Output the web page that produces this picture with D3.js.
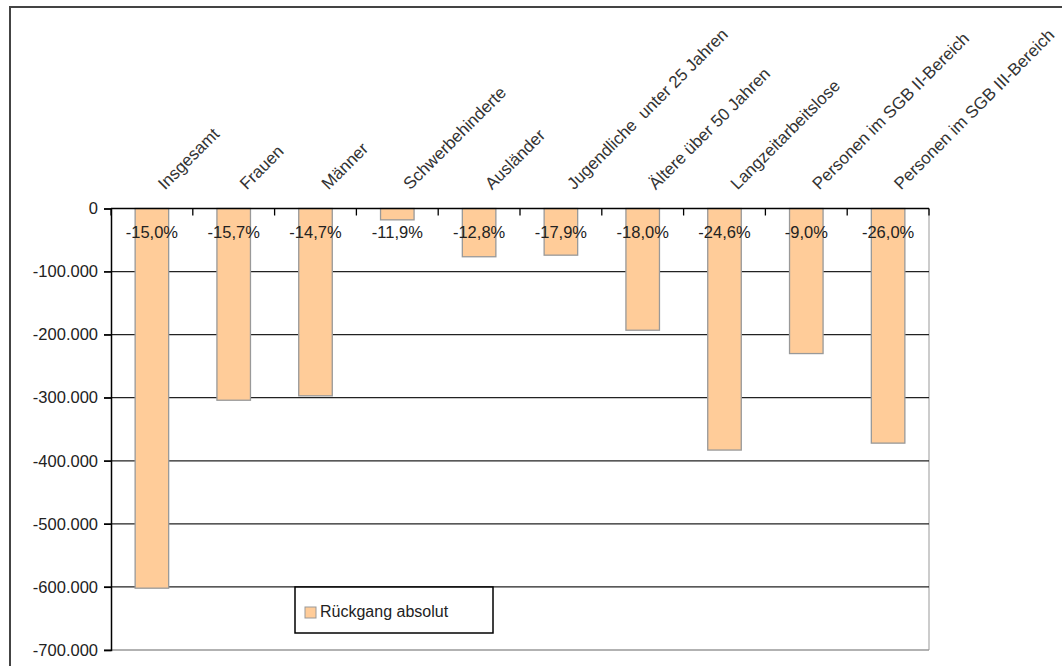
<!DOCTYPE html>
<html>
<head>
<meta charset="utf-8">
<script src="https://cdn.jsdelivr.net/npm/d3@7"></script>
<style>
  html, body { margin: 0; background: #fff; overflow: hidden; }
  svg { display: block; }
  svg text { font-family: "Liberation Sans", Arial, sans-serif; }
</style>
</head>
<body>
<script>
var w = 1062, h = 666;

// data
var categories = ["Insgesamt", "Frauen", "Männer", "Schwerbehinderte", "Ausländer",
    "Jugendliche  unter 25 Jahren", "Ältere über 50 Jahren", "Langzeitarbeitslose",
    "Personen im SGB II-Bereich", "Personen im SGB III-Bereich"];
var rueckgang = [-602000, -304000, -297000, -18000, -76500, -74000, -193000, -383000, -230000, -372000];
var prozent = ["-15,0%", "-15,7%", "-14,7%", "-11,9%", "-12,8%", "-17,9%", "-18,0%", "-24,6%", "-9,0%", "-26,0%"];
var yTicks = [0, -100000, -200000, -300000, -400000, -500000, -600000, -700000];
var seriesName = "Rückgang absolut";

var de = d3.formatLocale({decimal: ",", thousands: ".", grouping: [3], currency: ["", " €"], minus: "-"});
var fmt = de.format(",.0f");

var plot = {left: 111, right: 929, top: 208.5, bottom: 650};

var svg = d3.select("body").append("svg")
    .attr("width", w)
    .attr("height", h);

// outer frame: only left and top edges are in view
svg.append("path")
    .attr("d", "M10," + h + "V7H" + w)
    .style("fill", "none")
    .style("stroke", "#444")
    .style("stroke-width", 2);

var x = d3.scaleBand()
    .domain(categories)
    .range([plot.left, plot.right])
    .paddingInner(0.59)
    .paddingOuter(0.295);

var xb = d3.scaleBand()
    .domain(categories)
    .range([plot.left, plot.right]);

var y = d3.scaleLinear()
    .domain([0, -700000])
    .range([plot.top, plot.bottom]);

// plot border right (light)
svg.append("line")
    .attr("x1", plot.right).attr("x2", plot.right)
    .attr("y1", plot.top).attr("y2", plot.bottom)
    .style("stroke", "#aaa").style("stroke-width", 1.2);

// gridlines
svg.selectAll("line.grid")
    .data(yTicks.slice(1))
    .enter()
    .append("line")
    .attr("class", "grid")
    .attr("x1", plot.left - 7)
    .attr("x2", plot.right)
    .attr("y1", function(d){ return y(d); })
    .attr("y2", function(d){ return y(d); })
    .style("stroke", function(d){ return d === -700000 ? "#999" : "#222"; })
    .style("stroke-width", 1.3);

// bars
svg.selectAll("rect.bar")
    .data(rueckgang)
    .enter()
    .append("rect")
    .attr("class", "bar")
    .attr("x", function(d, i){ return x(categories[i]); })
    .attr("y", y(0))
    .attr("width", x.bandwidth())
    .attr("height", function(d){ return y(d) - y(0); })
    .style("fill", "#FFCC99")
    .style("stroke", "#999")
    .style("stroke-width", 1.3);

// y axis
var yAxis = d3.axisLeft(y)
    .tickValues(yTicks)
    .tickFormat(fmt)
    .tickSize(7)
    .tickPadding(6);
var ga = svg.append("g")
    .attr("transform", "translate(" + plot.left + ",0)")
    .call(yAxis);
ga.select(".domain").style("stroke", "#000").style("stroke-width", 1.5);
ga.selectAll(".tick line").style("stroke", "#000").style("stroke-width", 1.3);
ga.selectAll(".tick text")
    .style("font-size", "16.5px")
    .style("fill", "#222");

// category axis at zero, ticks pointing down
var gx = svg.append("g")
    .attr("transform", "translate(0," + y(0) + ")");
gx.append("line")
    .attr("x1", plot.left).attr("x2", plot.right)
    .style("stroke", "#000").style("stroke-width", 1.5);
gx.selectAll("line.sep")
    .data(categories.concat(["end"]))
    .enter()
    .append("line")
    .attr("class", "sep")
    .attr("x1", function(d, i){ return plot.left + i * xb.bandwidth(); })
    .attr("x2", function(d, i){ return plot.left + i * xb.bandwidth(); })
    .attr("y1", 0).attr("y2", 7)
    .style("stroke", "#000").style("stroke-width", 1.3);

// rotated category labels above the axis
svg.selectAll("text.cat")
    .data(categories)
    .enter()
    .append("text")
    .attr("class", "cat")
    .attr("transform", function(d){
        return "translate(" + (xb(d) + xb.bandwidth() / 2 + 13) + "," + (y(0) - 18) + ") rotate(-45)";
    })
    .style("font-size", "17px")
    .style("fill", "#333")
    .style("white-space", "pre")
    .text(function(d){ return d; });

// percentage labels
svg.selectAll("text.pct")
    .data(prozent)
    .enter()
    .append("text")
    .attr("class", "pct")
    .attr("x", function(d, i){ return xb(categories[i]) + xb.bandwidth() / 2; })
    .attr("y", y(0) + 29)
    .attr("text-anchor", "middle")
    .style("font-size", "16.5px")
    .style("fill", "#222")
    .text(function(d){ return d; });

// legend
var lg = svg.append("g").attr("transform", "translate(295,587)");
lg.append("rect")
    .attr("width", 198).attr("height", 46)
    .style("fill", "#fff")
    .style("stroke", "#000")
    .style("stroke-width", 1.5);
lg.append("rect")
    .attr("x", 10).attr("y", 20)
    .attr("width", 11).attr("height", 11)
    .style("fill", "#FFCC99")
    .style("stroke", "#999")
    .style("stroke-width", 1);
lg.append("text")
    .attr("x", 25).attr("y", 30)
    .style("font-size", "16px")
    .style("fill", "#222")
    .text(seriesName);
</script>
</body>
</html>
